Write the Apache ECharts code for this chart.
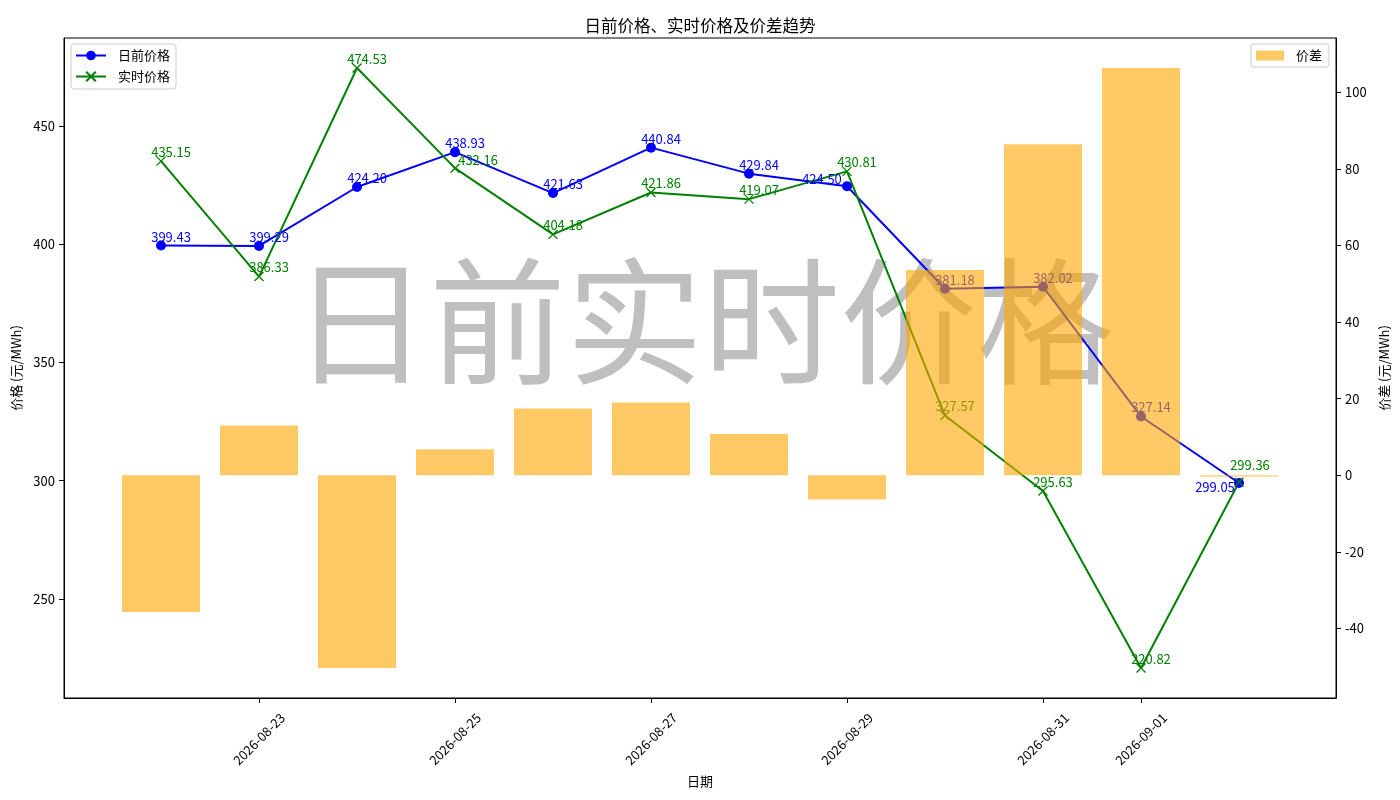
<!DOCTYPE html>
<html>
<head>
<meta charset="utf-8">
<title>日前价格、实时价格及价差趋势</title>
<script src="https://cdn.jsdelivr.net/npm/echarts@6/dist/echarts.min.js"></script>
<style>
  html, body { margin: 0; padding: 0; background: #fff; }
  #chart-box { width: 1400px; height: 800px; }
</style>
</head>
<body>
<div id="chart-box"></div>
<script>
const dates = ['2026-08-22', '2026-08-23', '2026-08-24', '2026-08-25', '2026-08-26', '2026-08-27',
  '2026-08-28', '2026-08-29', '2026-08-30', '2026-08-31', '2026-09-01', '2026-09-02'];
const dayAhead = [399.43, 399.29, 424.20, 438.93, 421.63, 440.84, 429.84, 424.50, 381.18, 382.02, 327.14, 299.05];
const realTime = [435.15, 386.33, 474.53, 432.16, 404.18, 421.86, 419.07, 430.81, 327.57, 295.63, 220.82, 299.36];
const priceDiff = [-35.72, 12.96, -50.33, 6.77, 17.45, 18.98, 10.77, -6.31, 53.61, 86.39, 106.32, -0.31];
const dateTicks = [1, 3, 5, 7, 9, 10];
const priceTicks = [250, 300, 350, 400, 450];
const diffTicks = [-40, -20, 0, 20, 40, 60, 80, 100];

// label nudges where the text was moved off the default spot
const blueShift = { 7: [-25, -7], 11: [-24, 4] };
const greenShift = { 3: [23, -8], 11: [11, -17] };

const FONT = '"Noto Sans CJK SC", "Noto Sans", sans-serif';

function lineData(vals, shift) {
  return vals.map((v, i) => {
    let item = { value: [i, v] };
    if (shift[i]) item.label = { offset: shift[i] };
    return item;
  });
}

const chart = echarts.init(document.getElementById('chart-box'));

let option = {
  animation: false,
  textStyle: { fontFamily: FONT },
  title: {
    text: '日前价格、实时价格及价差趋势',
    left: 'center',
    top: 12,
    textStyle: { fontSize: 16.5, fontWeight: 'normal', color: '#000', fontFamily: FONT }
  },
  graphic: [{
    type: 'text',
    z: 0,
    x: 703,
    y: 322,
    style: {
      text: '日前实时价格',
      font: '137px ' + FONT,
      fill: 'rgba(128,128,128,0.5)',
      textAlign: 'center',
      textVerticalAlign: 'middle'
    }
  }],
  legend: [
    {
      data: ['日前价格', '实时价格'],
      orient: 'vertical',
      left: 71,
      top: 44,
      itemWidth: 30,
      itemHeight: 12,
      itemGap: 8,
      padding: [5, 6, 6, 4],
      borderColor: '#cccccc',
      borderWidth: 1,
      borderRadius: 3,
      backgroundColor: 'rgba(255,255,255,0.8)',
      textStyle: { fontSize: 13, color: '#000', fontFamily: FONT, padding: [0, 0, 0, 7] }
    },
    {
      data: [{ name: '价差', icon: 'rect' }],
      right: 71,
      top: 44,
      itemWidth: 28,
      itemHeight: 10,
      padding: [5, 7, 5, 5],
      borderColor: '#cccccc',
      borderWidth: 1,
      borderRadius: 3,
      backgroundColor: 'rgba(255,255,255,0.8)',
      textStyle: { fontSize: 13, color: '#000', fontFamily: FONT, padding: [0, 0, 0, 7] }
    }
  ],
  grid: {
    left: 64,
    right: 64,
    top: 38,
    bottom: 102,
    show: true,
    borderColor: '#000',
    borderWidth: 1,
    backgroundColor: 'transparent'
  },
  xAxis: {
    type: 'value',
    min: -0.99,
    max: 11.99,
    name: '日期',
    nameLocation: 'middle',
    nameGap: 73,
    nameTextStyle: { fontSize: 13, color: '#000' },
    splitLine: { show: false },
    axisLine: { onZero: false, lineStyle: { color: '#000', width: 1 } },
    axisTick: { customValues: dateTicks, length: 5, lineStyle: { color: '#000' } },
    axisLabel: {
      customValues: dateTicks,
      formatter: v => dates[Math.round(v)],
      rotate: 45,
      align: 'center',
      verticalAlign: 'middle',
      margin: 41,
      fontSize: 13,
      color: '#000'
    }
  },
  yAxis: [
    {
      type: 'value',
      position: 'left',
      min: 208.13,
      max: 487.2,
      name: '价格 (元/MWh)',
      nameLocation: 'middle',
      nameRotate: 90,
      nameGap: 37,
      nameTextStyle: { fontSize: 13, color: '#000' },
      splitLine: { show: false },
      axisLine: { show: true, onZero: false, lineStyle: { color: '#000', width: 1 } },
      axisTick: { show: true, customValues: priceTicks, length: 5, lineStyle: { color: '#000' } },
      axisLabel: { customValues: priceTicks, margin: 9, fontSize: 13, color: '#000' }
    },
    {
      type: 'value',
      position: 'right',
      min: -58.16,
      max: 114.15,
      name: '价差 (元/MWh)',
      nameLocation: 'middle',
      nameRotate: 90,
      nameGap: 36,
      nameTextStyle: { fontSize: 13, color: '#000' },
      splitLine: { show: false },
      axisLine: { show: true, onZero: false, lineStyle: { color: '#000', width: 1 } },
      axisTick: { show: true, customValues: diffTicks, length: 5, lineStyle: { color: '#000' } },
      axisLabel: { customValues: diffTicks, margin: 9, fontSize: 13, color: '#000' }
    }
  ],
  series: [
    {
      name: '日前价格',
      type: 'line',
      z: 2,
      yAxisIndex: 0,
      data: lineData(dayAhead, blueShift),
      symbol: 'circle',
      symbolSize: 10,
      lineStyle: { color: '#0000ff', width: 2 },
      itemStyle: { color: '#0000ff' },
      label: {
        show: true,
        position: 'inside',
        offset: [10, -9],
        color: '#0000ff',
        fontSize: 13,
        formatter: p => p.value[1].toFixed(2)
      }
    },
    {
      name: '实时价格',
      type: 'line',
      z: 2,
      yAxisIndex: 0,
      data: lineData(realTime, greenShift),
      symbol: 'path://M0,0L10,10M10,0L0,10',
      symbolSize: 9,
      lineStyle: { color: '#008000', width: 2 },
      itemStyle: { color: '#008000', borderColor: '#008000', borderWidth: 1.3 },
      label: {
        show: true,
        position: 'inside',
        offset: [10, -9],
        color: '#008000',
        fontSize: 13,
        formatter: p => p.value[1].toFixed(2)
      }
    },
    {
      name: '价差',
      type: 'bar',
      z: 3,
      yAxisIndex: 1,
      data: priceDiff.map((v, i) => [i, v]),
      barWidth: 78,
      itemStyle: { color: 'rgba(255,165,0,0.6)' }
    }
  ]
};
chart.setOption(option);
</script>
</body>
</html>
